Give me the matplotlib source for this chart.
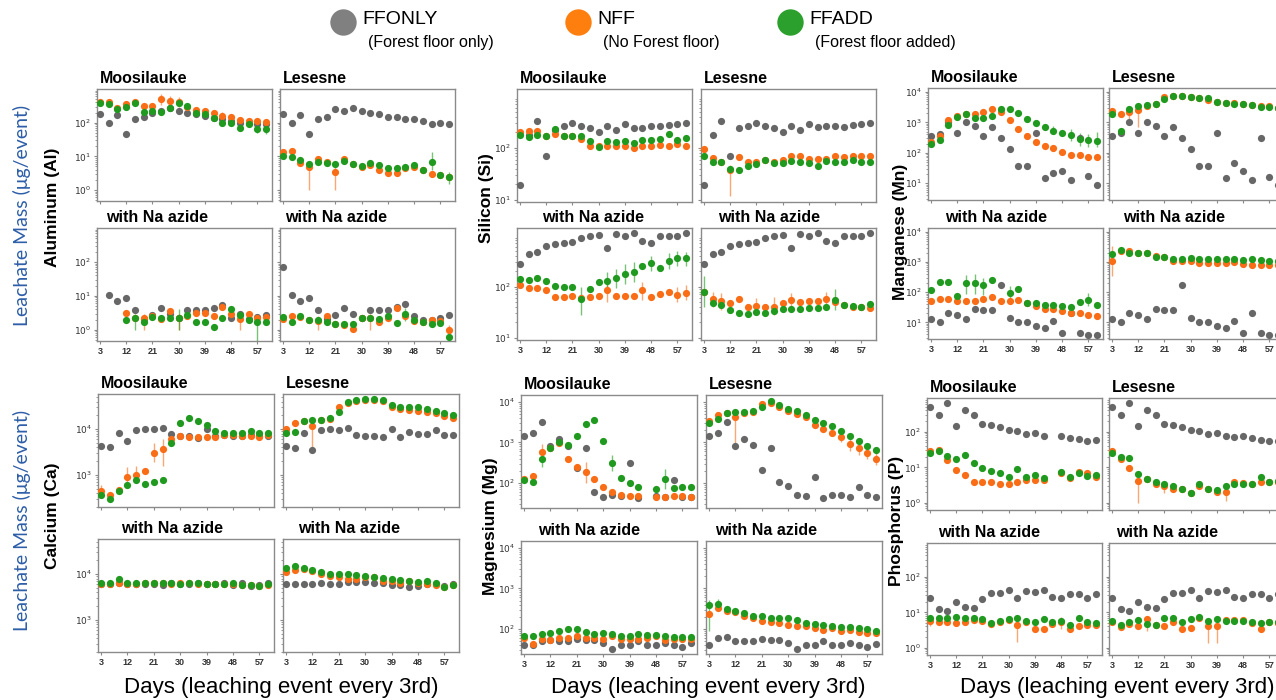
import numpy as np
import matplotlib.pyplot as plt
from matplotlib.lines import Line2D
from matplotlib.ticker import FixedLocator, FuncFormatter, NullFormatter

nan = np.nan

# %% Data: leachate mass (ug/event) per leaching event
days = [3, 6, 9, 12, 15, 18, 21, 24, 27, 30, 33, 36, 39, 42, 45, 48, 51, 54, 57, 60]
xticks = [3, 12, 21, 30, 39, 48, 57]

# Aluminum
al_moos_ffonly = [178, 100, 166, 45, 126, 148, 200, 224, 282, 224, 200, 178, 158, 141, 126, 112, 100, 100, 89, 89]
al_moos_nff = [417, 398, 282, 355, 398, 316, 316, 501, 447, 398, 295, 240, 224, 200, 158, 151, 117, 112, 112, 105]
al_moos_ffadd = [372, 355, 251, 295, 372, 214, 224, 214, 282, 380, 316, 200, 178, 141, 100, 100, 71, 89, 66, 63]
al_les_ffonly = [178, 100, 166, 45, 126, 148, 251, 224, 269, 224, 200, 178, 151, 151, 132, 126, 112, 93, 100, 93]
al_les_nff = [13, 14, 6.3, 4.8, 8.5, 7, 3.5, 8.5, 6, 4.8, 5.6, 4, 3.3, 3.3, 4.5, 4.8, 3.9, 3.0, 2.8, 2.5]
al_les_ffadd = [10, 9.3, 7.6, 6, 6.8, 6.3, 6, 7.4, 6, 5.2, 6.3, 5.6, 4.5, 4.5, 4.8, 5.6, 4, 6.6, 2.8, 2.4]
al_moos_az_ffonly = [nan, 10.5, 7.1, 8.5, 3.8, 2.1, 2.7, 4.5, 2.9, 2.3, 3.8, 3.8, 3.8, 4.5, 5.5, 2.2, 2.9, 2.1, 2.4, 2.8]
al_moos_az_nff = [nan, nan, nan, 3.2, 2.3, 2.2, 2.6, 2.05, 3.6, 2.2, 2.6, 3.2, 3.2, 2.6, 4.8, 2.9, 2.05, 2.9, 2.3, 2.4]
al_moos_az_ffadd = [nan, nan, nan, 1.9, 2.3, 1.65, 2.4, 2.3, 2.3, 2.2, 2.8, 1.65, 1.65, 1.25, 2.2, 4.0, 2.8, 1.9, 1.65, 1.65]
al_les_az_ffonly = [71, 10.5, 7.1, 8.5, 3.8, 2.1, 2.7, 4.5, 2.9, 2.3, 3.8, 3.8, 3.8, 4.7, 5.6, 2.6, 1.9, 2.0, 2.2, 2.8]
al_les_az_nff = [2.05, 2.6, 2.4, 2.0, 1.85, 2.6, 1.5, 1.35, 1.05, 2.3, 2.3, 1.65, 2.3, 4.5, 2.6, 1.85, 1.65, 1.9, 1.85, 0.97]
al_les_az_ffadd = [2.4, 1.65, 2.6, 1.9, 1.9, 1.65, 1.5, 1.5, 1.5, 2.2, 2.2, 2.1, 2.5, 1.55, 2.9, 1.9, 1.65, 1.5, 1.55, 0.6]

# Silicon
si_moos_ffonly = [19.5, 180, 340, 69, 225, 270, 305, 262, 245, 200, 262, 225, 295, 245, 245, 262, 262, 283, 290, 305]
si_moos_nff = [200, 210, 215, 168, 190, 168, 168, 150, 110, 110, 110, 110, 110, 100, 110, 110, 116, 108, 121, 110]
si_moos_ffadd = [181, 161, 181, 168, 233, 168, 168, 168, 135, 105, 135, 129, 135, 125, 145, 145, 150, 190, 145, 156]
si_les_ffonly = [19.5, 180, 340, 69, 240, 262, 305, 270, 245, 200, 270, 225, 295, 250, 262, 262, 250, 275, 290, 305]
si_les_nff = [96, 64, 55, 38, 66, 55, 55, 59, 55, 59, 69, 71, 61, 61, 61, 69, 66, 71, 69, 69]
si_les_ffadd = [71, 54, 54, 39, 38, 45, 49, 58, 51, 51, 57, 53, 51, 45, 57, 55, 55, 58, 55, 55]
si_az_ffonly = [270, 430, 465, 610, 670, 700, 725, 880, 985, 1010, 565, 1060, 985, 1090, 780, 700, 985, 985, 945, 1090]
si_moos_az_nff = [108, 93, 93, 86, 63, 63, 64, 60, 63, 65, 84, 65, 64, 64, 84, 63, 72, 78, 69, 75]
si_moos_az_ffadd = [140, 136, 146, 130, 104, 97, 97, 58, 90, 125, 126, 146, 175, 196, 250, 283, 234, 314, 353, 353]
si_les_az_nff = [78, 56, 52, 48, 58, 40, 41, 40, 40, 47, 54, 50, 52, 52, 56, 50, 43, 40, 40, 39]
si_les_az_ffadd = [78, 47, 43, 35, 30, 29, 32, 30, 34, 36, 37, 37, 39, 39, 40, 54, 43, 42, 40, 45]

# Manganese
mn_moos_ffonly = [355, 420, 1050, 450, 1000, 740, 370, 690, 310, 130, 38, 38, 450, 15, 21, 26, 13, 300, 17, 9]
mn_moos_nff = [225, 370, 1200, 1650, 1950, 1850, 2250, 2700, 2250, 1200, 610, 370, 225, 165, 145, 105, 85, 85, 75, 70]
mn_moos_ffadd = [190, 260, 840, 1450, 1850, 1350, 1350, 1650, 2700, 2700, 2000, 1300, 950, 690, 540, 450, 390, 290, 260, 250]
mn_les_ffonly = [355, 450, 1050, 450, 1000, 740, 370, 690, 310, 130, 38, 38, 450, 15, 45, 26, 13, 300, 16, 9]
mn_les_nff = [2400, 1950, 2200, 2500, 3400, 3900, 6700, 7600, 7600, 6900, 6400, 5400, 4600, 4400, 4200, 4100, 3600, 3400, 3400, 3000]
mn_les_ffadd = [1850, 540, 2700, 3400, 3700, 3900, 5700, 7600, 7600, 6900, 6100, 6100, 4700, 4400, 4100, 4100, 3600, 3200, 3200, 3000]
mn_az_ffonly = [13, 10, 20, 17, 13, 28, 26, 25, 170, 14, 10, 10, 7.5, 6.5, 11, 4.5, 20, 4.5, 3.8, 3.8]
mn_moos_az_nff = [52, 60, 60, 52, 50, 52, 60, 70, 52, 52, 55, 43, 36, 28, 28, 24, 20, 20, 17, 16]
mn_moos_az_ffadd = [115, 210, 220, 75, 195, 195, 170, 260, nan, 94, 130, 45, 44, 38, 38, 36, 32, 47, 55, 38]
mn_les_az_nff = [1050, 2400, 2400, 2050, 1950, 1600, 1500, 1100, 1050, 1100, 900, 950, 950, 900, 970, 860, 830, 830, 770, 770]
mn_les_az_ffadd = [1800, 2550, 2050, 2050, 1950, 1500, 1500, 1250, 1300, 1400, 1300, 1300, 1300, 1300, 1300, 1170, 1250, 1200, 1100, 1100]

# Calcium
ca_moos_ffonly = [4400, 4050, 8150, 5500, 9500, 10300, 10000, 10900, 7700, 7100, 7100, 6500, 10000, 7000, 7400, 7000, 7200, 7400, 7000, 7000]
ca_moos_nff = [440, 360, 460, 920, 1000, 1250, 3000, 3700, 6200, 7100, 6900, 6900, 6900, 6900, 7400, 7400, 7100, 7100, 6900, 7400]
ca_moos_ffadd = [375, 300, 440, 600, 770, 650, 710, 770, 4900, 14000, 17600, 15300, 12300, 9200, 8400, 8400, 8150, 9200, 8150, 8150]
ca_les_ffonly = [4400, 3900, 8150, 3600, 9500, 10300, 9700, 10900, 7500, 7100, 7100, 6900, 10000, 6900, 8700, 8000, 8000, 9500, 7500, 7500]
ca_les_nff = [10300, 13400, 15000, 11900, 16000, 16700, 31300, 38000, 42000, 44000, 44000, 41000, 30300, 27800, 27000, 25500, 23500, 22300, 19800, 17600]
ca_les_ffadd = [8400, 8700, 15000, 15800, 16000, 17800, 23500, 39000, 43000, 45000, 45000, 43000, 34700, 31300, 31300, 30000, 27800, 25500, 22300, 20500]
ca_moos_az_ffonly = [6000, 6000, 6300, 6100, 6200, 6000, 6100, 5800, 6300, 6100, 6200, 6400, 6000, 6200, 6500, 5900, 6300, 5500, 5700, 6300]
ca_moos_az_nff = [6200, 6100, 6400, 6100, 6200, 6300, 6300, 6300, 6200, 6300, 6300, 6100, 6200, 6100, 6200, 6000, 5900, 5800, 5500, 5800]
ca_moos_az_ffadd = [6400, 6500, 7800, 6600, 6300, 6400, 6500, 6400, 6500, 6200, 6300, 6300, 6000, 6000, 6200, 6500, 5800, 5800, 5600, 6000]
ca_les_az_ffonly = [6200, 6100, 6100, 6100, 6300, 6100, 6100, 6700, 6900, 6800, 6400, 6400, 5700, 5900, 5400, 5600, 6000, 6200, 5600, 6000]
ca_les_az_nff = [11200, 12400, 13200, 11800, 10300, 9200, 8500, 7800, 7800, 8800, 8800, 7000, 7000, 6600, 7200, 6300, 6100, 5900, 5200, 5900]
ca_les_az_ffadd = [13400, 15100, 13400, 12200, 11400, 10300, 10300, 10000, 9500, 9200, 8500, 8200, 7800, 7600, 7200, 6800, 7200, 6300, 5200, 5900]

# Magnesium
mg_moos_ffonly = [1430, 1730, 3220, 800, 1200, 800, 230, 740, 58, 46, 51, 48, 316, 42, nan, 48, 44, 118, 45, 45]
mg_moos_nff = [127, 144, 590, 710, 950, 400, 250, 190, 127, 81, 58, 51, 48, 48, nan, 46, 46, 48, 48, 46]
mg_moos_ffadd = [118, 108, 385, 710, 1000, 860, 1430, 2770, 3670, 1100, 305, 135, 98, 81, nan, 71, 123, 75, 78, 81]
mg_les_ffonly = [1430, 1730, 3220, 810, 1200, 860, 210, 740, 108, 85, 51, 48, 143, 42, 51, 51, 45, 77, 51, 45]
mg_les_nff = [3400, 4700, 5370, 4270, 5370, 5670, 9100, 9450, 7540, 6000, 4970, 4120, 2670, 2090, 1730, 1380, 910, 710, 560, 400]
mg_les_ffadd = [2930, 3890, 5370, 5670, 5670, 6000, 7540, 10600, 8600, 6860, 5900, 4700, 3670, 3050, 2520, 1940, 1430, 1080, 810, 650]
mg_moos_az_ffonly = [40, 40, 51, 53, 51, 49, 55, 53, 53, 45, 31, 39, 39, 50, 39, 39, 44, 39, 36, 44]
mg_moos_az_nff = [59, 43, 55, 53, 60, 60, 65, 60, 60, 55, 65, 55, 55, 55, 59, 65, 53, 55, 55, 55]
mg_moos_az_ffadd = [67, 67, 76, 81, 91, 98, 98, 86, 76, 81, 76, 67, 67, 76, 72, 72, 67, 62, 62, 62]
mg_les_az_ffonly = [40, 59, 62, 51, 51, 49, 55, 53, 53, 44, 31, 39, 39, 50, 39, 39, 44, 39, 36, 43]
mg_les_az_nff = [236, 325, 283, 258, 204, 183, 158, 147, 139, 127, 115, 115, 108, 95, 104, 91, 95, 86, 78, 81]
mg_les_az_ffadd = [400, 420, 310, 283, 245, 210, 210, 190, 183, 183, 167, 139, 133, 127, 115, 110, 110, 104, 98, 91]

# Phosphorus
p_moos_ffonly = [500, 290, 640, 144, 420, 290, 160, 150, 138, 112, 107, 86, 94, 77, nan, 77, 65, 62, 56, 59]
p_moos_nff = [28, 31, 16, 8.2, 5.9, 3.9, 3.9, 3.9, 3.3, 3.5, 3.9, 4.5, 4.5, 4.3, nan, 6.9, 5.0, 7.2, 6.9, 5.3]
p_moos_ffadd = [26, 29.5, 21, 17.3, 22, 13, 9.5, 8, 6.9, 5.5, 8.9, 5.5, 5.9, 5.0, nan, 7.2, 5.3, 6.9, 5.8, 6.2]
p_les_ffonly = [500, 290, 640, 144, 420, 290, 160, 150, 138, 112, 107, 86, 94, 77, 72, 74, 65, 60, 56, 55]
p_les_nff = [28, 17, 9.5, 4.0, 4.8, 3.5, 2.9, 2.4, 2.4, 1.9, 2.9, 2.5, 2.0, 2.0, 3.8, 3.6, 3.3, 3.8, 3.8, 3.8]
p_les_ffadd = [26, 20, 18, 6.6, 4.6, 3.8, 3.5, 2.9, 2.5, 1.9, 3.5, 2.4, 2.3, 2.9, 3.5, 3.5, 3.5, 5.3, 3.8, 4.0]
p_az_ffonly = [26, 12, 11, 20, 14, 13, 23, 36, 35, 43, 26, 40, 37, 43, 27, 25, 32, 33, 26, 33]
p_moos_az_nff = [5.8, 5.5, 5.4, 4.9, 5.2, 6.0, 5.8, 4.7, 5.5, 6.0, 4.5, 5.4, 3.5, 3.5, 4.7, 5.2, 3.4, 4.0, 4.5, 4.5]
p_moos_az_ffadd = [6.7, 6.7, 6.7, 7.6, 7.1, 6.7, 6.4, 4.9, 5.8, 6.4, 7.1, 5.8, 5.5, 6.4, 5.2, 5.8, 4.4, 6.7, 5.2, 4.9]
p_les_az_nff = [5.4, 3.8, 4.7, 4.0, 6.4, 4.5, 4.2, 5.2, 3.5, 3.6, 6.7, 4.0, 4.2, 6.0, 6.0, 6.0, 5.0, 3.5, 5.2, 5.0]
p_les_az_ffadd = [5.8, 4.5, 5.2, 6.2, 4.7, 4.5, 7.1, 6.7, 5.2, 6.4, 7.6, 5.8, 6.4, 5.8, 5.8, 5.8, 5.4, 5.0, 5.4, 5.2]

# Error bar ranges (low, high) for the points with visible whiskers, keyed by day
al_moos_nff_err = {24: (330, 720), 27: (320, 640), 30: (300, 560), 45: (120, 210)}
al_moos_ffadd_err = {51: (55, 95), 57: (48, 90), 60: (45, 85)}
al_les_nff_err = {12: (1.0, 7.0), 21: (1.0, 5.0)}
al_les_ffadd_err = {54: (4.0, 13.0), 60: (1.5, 3.5)}
al_moos_az_nff_err = {18: (1.0, 3.0), 30: (1.0, 3.0), 51: (1.0, 3.0)}
al_moos_az_ffadd_err = {15: (1.0, 3.0), 30: (1.0, 4.0), 57: (0.47, 3.0)}
al_les_az_nff_err = {15: (1.0, 2.6), 33: (1.0, 3.0), 60: (0.7, 1.4)}
al_les_az_ffadd_err = {45: (1.8, 4.5), 60: (0.5, 1.0)}
si_les_nff_err = {12: (12, 48)}
si_moos_az_nff_err = {33: (50, 140), 45: (55, 120), 57: (50, 100), 60: (55, 105)}
si_moos_az_ffadd_err = {24: (28, 100), 33: (80, 190), 36: (95, 220), 39: (110, 270), 42: (120, 300),
                        48: (200, 400), 54: (220, 450), 57: (250, 500), 60: (250, 480)}
si_les_az_nff_err = {6: (40, 80), 9: (35, 75), 21: (28, 60), 27: (28, 62), 33: (40, 75), 45: (38, 80)}
si_les_az_ffadd_err = {3: (40, 160), 48: (35, 90)}
mn_moos_ffadd_err = {45: (400, 750), 51: (250, 620), 54: (170, 450), 57: (160, 420), 60: (150, 480)}
mn_les_nff_err = {9: (1300, 3300), 12: (700, 3200)}
mn_moos_az_ffadd_err = {15: (90, 360), 18: (90, 400), 21: (80, 300), 30: (60, 160), 57: (35, 95)}
mn_les_az_nff_err = {3: (350, 3500)}
ca_moos_nff_err = {3: (330, 600), 12: (600, 1500), 15: (700, 1600), 21: (1900, 5000), 24: (1600, 6000)}
ca_les_nff_err = {12: (3500, 14000)}
mg_moos_nff_err = {9: (400, 900), 24: (100, 320)}
mg_moos_ffadd_err = {9: (250, 550), 33: (200, 500), 51: (70, 220)}
mg_les_nff_err = {12: (800, 5000), 48: (1000, 1900), 51: (600, 1300), 54: (500, 1000), 57: (380, 800), 60: (270, 560)}
mg_les_az_ffadd_err = {3: (90, 520), 6: (300, 560)}
p_les_nff_err = {12: (1.0, 5.0), 21: (1.9, 3.6), 42: (1.1, 3.0)}
p_moos_az_nff_err = {3: (4.0, 8.0), 33: (1.5, 6.0), 48: (3.5, 7.5)}
p_les_az_nff_err = {15: (3.0, 8.0), 36: (1.4, 4.5), 39: (1.4, 4.5)}

# %% Layout (pixel boxes: left x of the two columns, panel width, top/bottom of the two rows)
W, H = 1276, 700
panel_layout = {
    "Al": ((97, 280), 175, ((89, 201), (228, 341))),
    "Si": ((517, 701), 175, ((89, 202), (228, 340))),
    "Mn": ((928, 1109), 175, ((88, 200), (228, 339))),
    "Ca": ((98, 283), 176, ((394, 507), (539, 652))),
    "Mg": ((521, 706), 176, ((395, 508), (541, 654))),
    "P": ((927, 1109), 175, ((398, 510), (543, 655))),
}
azide_title_shift = {"Al": (9, 5), "Si": (25, 17), "Mn": (17, 14), "Ca": (23, 15), "Mg": (17, 9), "P": (11, 7)}
ylims = {"Al": (0.47, 1000), "Si": (9.1, 1380), "Mn": (2.8, 13500),
         "Ca": (200, 59000), "Mg": (24, 14800), "P": (0.63, 890)}
ydecades = {"Al": [0, 1, 2], "Si": [1, 2], "Mn": [1, 2, 3, 4],
            "Ca": [3, 4], "Mg": [2, 3, 4], "P": [0, 1, 2]}

panels = {
    "Al": [[(al_moos_ffonly, al_moos_nff, al_moos_ffadd, {}, al_moos_nff_err, al_moos_ffadd_err),
            (al_les_ffonly, al_les_nff, al_les_ffadd, {}, al_les_nff_err, al_les_ffadd_err)],
           [(al_moos_az_ffonly, al_moos_az_nff, al_moos_az_ffadd, {}, al_moos_az_nff_err, al_moos_az_ffadd_err),
            (al_les_az_ffonly, al_les_az_nff, al_les_az_ffadd, {}, al_les_az_nff_err, al_les_az_ffadd_err)]],
    "Si": [[(si_moos_ffonly, si_moos_nff, si_moos_ffadd, {}, {}, {}),
            (si_les_ffonly, si_les_nff, si_les_ffadd, {}, si_les_nff_err, {})],
           [(si_az_ffonly, si_moos_az_nff, si_moos_az_ffadd, {}, si_moos_az_nff_err, si_moos_az_ffadd_err),
            (si_az_ffonly, si_les_az_nff, si_les_az_ffadd, {}, si_les_az_nff_err, si_les_az_ffadd_err)]],
    "Mn": [[(mn_moos_ffonly, mn_moos_nff, mn_moos_ffadd, {}, {}, mn_moos_ffadd_err),
            (mn_les_ffonly, mn_les_nff, mn_les_ffadd, {}, mn_les_nff_err, {})],
           [(mn_az_ffonly, mn_moos_az_nff, mn_moos_az_ffadd, {}, {}, mn_moos_az_ffadd_err),
            (mn_az_ffonly, mn_les_az_nff, mn_les_az_ffadd, {}, mn_les_az_nff_err, {})]],
    "Ca": [[(ca_moos_ffonly, ca_moos_nff, ca_moos_ffadd, {}, ca_moos_nff_err, {}),
            (ca_les_ffonly, ca_les_nff, ca_les_ffadd, {}, ca_les_nff_err, {})],
           [(ca_moos_az_ffonly, ca_moos_az_nff, ca_moos_az_ffadd, {}, {}, {}),
            (ca_les_az_ffonly, ca_les_az_nff, ca_les_az_ffadd, {}, {}, {})]],
    "Mg": [[(mg_moos_ffonly, mg_moos_nff, mg_moos_ffadd, {}, mg_moos_nff_err, mg_moos_ffadd_err),
            (mg_les_ffonly, mg_les_nff, mg_les_ffadd, {}, mg_les_nff_err, {})],
           [(mg_moos_az_ffonly, mg_moos_az_nff, mg_moos_az_ffadd, {}, {}, {}),
            (mg_les_az_ffonly, mg_les_az_nff, mg_les_az_ffadd, {}, {}, mg_les_az_ffadd_err)]],
    "P": [[(p_moos_ffonly, p_moos_nff, p_moos_ffadd, {}, {}, {}),
           (p_les_ffonly, p_les_nff, p_les_ffadd, {}, p_les_nff_err, {})],
          [(p_az_ffonly, p_moos_az_nff, p_moos_az_ffadd, {}, p_moos_az_nff_err, {}),
           (p_az_ffonly, p_les_az_nff, p_les_az_ffadd, {}, p_les_az_nff_err, {})]],
}

element_labels = {"Al": ("Aluminum (Al)", 53, 207), "Si": ("Silicon (Si)", 487, 198),
                  "Mn": ("Manganese (Mn)", 900, 232), "Ca": ("Calcium (Ca)", 53, 516),
                  "Mg": ("Magnesium (Mg)", 490, 526), "P": ("Phosphorus (P)", 897, 521)}

c_grey, c_orange, c_green = "#676767", "#f96d16", "#1f9a1f"
spine_c = "#8a8a8a"

plt.rcParams["font.family"] = ["Liberation Sans", "DejaVu Sans"]
fig = plt.figure(figsize=(W / 100, H / 100), dpi=100)


def px_rect(x0, x1, y0, y1):
    return [x0 / W, 1 - y1 / H, (x1 - x0) / W, (y1 - y0) / H]


def draw_series(ax, vals, color, err):
    ax.plot(days, vals, "o", color=color, ms=5.2, mec="none", zorder=3)
    for d, (lo, hi) in err.items():
        ax.plot([d, d], [lo, hi], color=color, lw=1.0, alpha=0.6, zorder=2, solid_capstyle="butt")


def dec_fmt(v, pos):
    return r"$10^{%d}$" % round(np.log10(v))


for elem, (xs, pw, rows) in panel_layout.items():
    for r, (y0, y1) in enumerate(rows):
        for c, x0 in enumerate(xs):
            ax = fig.add_axes(px_rect(x0, x0 + pw, y0, y1))
            grey, orange, green, e_grey, e_orange, e_green = panels[elem][r][c]
            draw_series(ax, grey, c_grey, e_grey)
            draw_series(ax, orange, c_orange, e_orange)
            draw_series(ax, green, c_green, e_green)

            ax.set_yscale("log")
            ax.set_ylim(*ylims[elem])
            ax.set_xlim(2, 62)
            ax.yaxis.set_major_locator(FixedLocator([10.0 ** d for d in ydecades[elem]]))
            ax.yaxis.set_minor_locator(FixedLocator(
                [m * 10.0 ** d for d in range(-1, 5) for m in range(2, 10)]))
            ax.yaxis.set_minor_formatter(NullFormatter())
            ax.set_xticks(xticks)
            for s in ax.spines.values():
                s.set_color(spine_c)
                s.set_linewidth(1.0)
            ax.tick_params(which="major", length=2.5, width=0.8, color=spine_c,
                           labelsize=6.5, labelcolor="#333333", pad=1.5)
            ax.tick_params(which="minor", length=1.3, width=0.6, color=spine_c)
            if c == 0:
                ax.yaxis.set_major_formatter(FuncFormatter(dec_fmt))
            else:
                ax.set_yticklabels([])
            if r == 0:
                ax.set_xticklabels([])
            else:
                for t in ax.get_xticklabels():
                    t.set_fontweight("bold")

            if r == 0:
                title, shift = ("Moosilauke", "Lesesne")[c], 3
            else:
                title, shift = "with Na azide", azide_title_shift[elem][c]
            fig.text((x0 + shift) / W, 1 - (y0 - 6) / H, title, fontsize=11.5,
                     fontweight="bold", ha="left", va="baseline")

    name, lx, ly = element_labels[elem]
    fig.text(lx / W, 1 - ly / H, name, rotation=90, fontsize=12.5, fontweight="bold",
             ha="center", va="center")

# Shared axis labels
for ly in (215, 520):
    fig.text(22 / W, 1 - ly / H, "Leachate Mass (μg/event)", rotation=90, fontsize=14,
             family=["Lato", "DejaVu Sans"], color="#2d5ea8", ha="center", va="center")
for lx in (281, 708, 1117):
    fig.text(lx / W, 1 - 688 / H, "Days (leaching event every 3rd)", fontsize=16,
             ha="center", va="center")

# Legend across the top
legend_items = [("FFONLY", "(Forest floor only)", "#808080", 343),
                ("NFF", "(No Forest floor)", "#ff7f0e", 578),
                ("FFADD", "(Forest floor added)", "#2ca02c", 790)]
for name, desc, col, cx in legend_items:
    fig.add_artist(Line2D([cx / W], [1 - 22 / H], marker="o", ms=19, color=col,
                          mec="none", transform=fig.transFigure))
    fig.text((cx + 19) / W, 1 - 24 / H, name, fontsize=14, ha="left", va="baseline")
    fig.text((cx + 25) / W, 1 - 47 / H, desc, fontsize=11.5, ha="left", va="baseline")

fig.savefig("out.png", dpi=100)
